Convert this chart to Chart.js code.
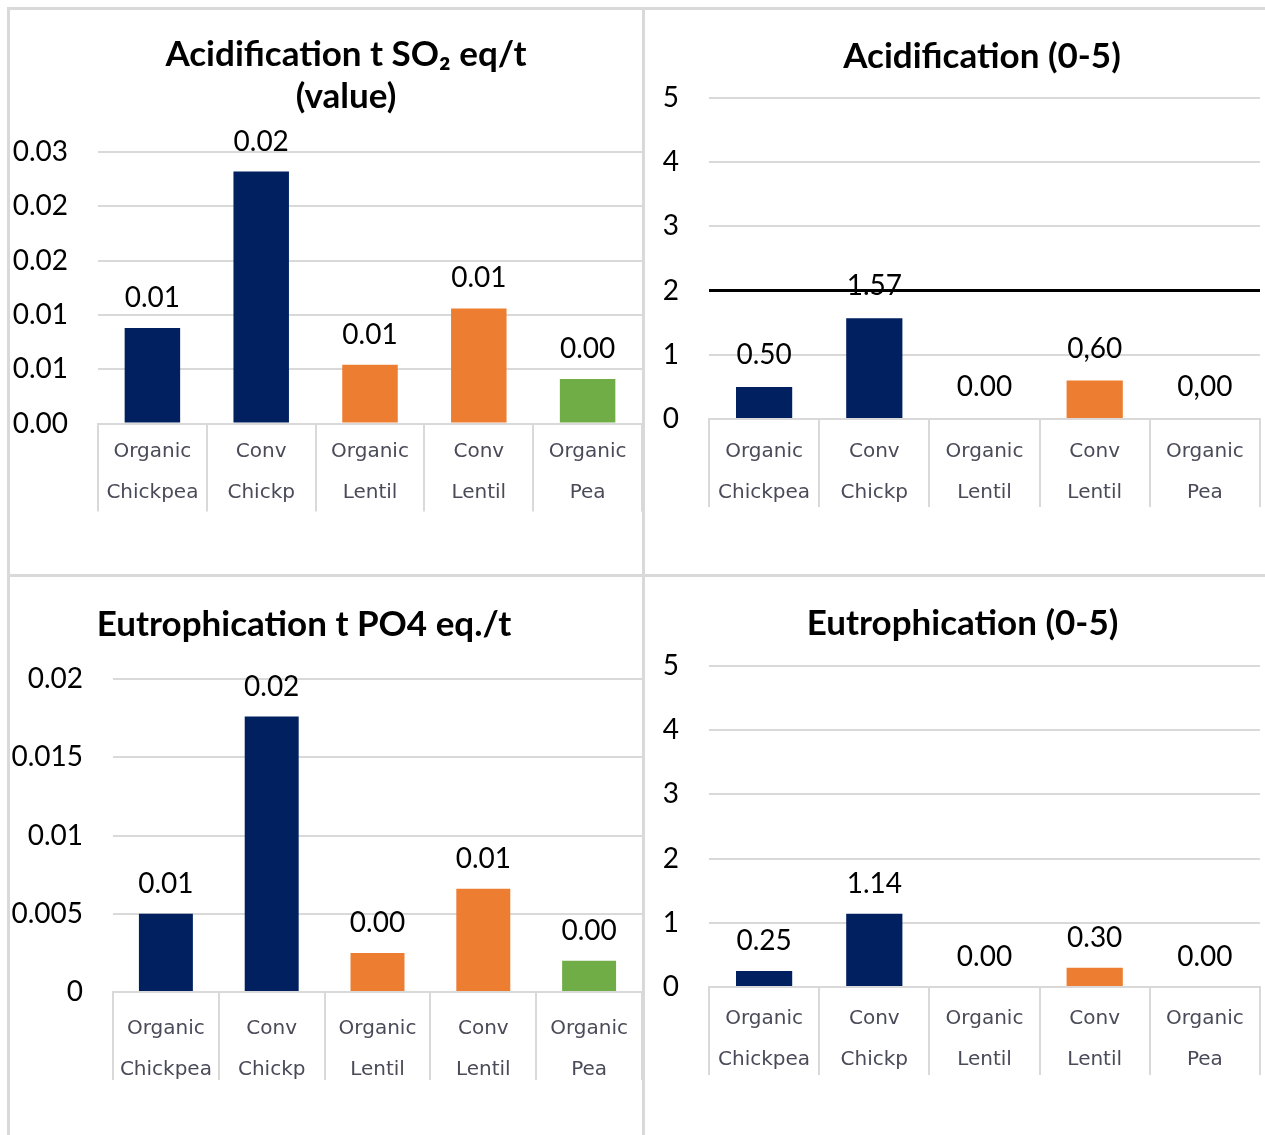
<!DOCTYPE html>
<html>
<head>
<meta charset="utf-8">
<script src="https://cdn.jsdelivr.net/npm/chart.js@4.4.1/dist/chart.umd.min.js"></script>
<style>
  html, body { margin: 0; padding: 0; background: #fff; }
  #page { position: relative; width: 1265px; height: 1135px; overflow: hidden; background: #fff; }
  canvas { position: absolute; }
  .rule { position: absolute; background: #d9d9d9; z-index: 2; }
</style>
</head>
<body>
<div id="page">
  <canvas id="acidValue" width="632" height="564" style="left:10px;top:10px"></canvas>
  <canvas id="acidScore" width="620" height="564" style="left:645px;top:10px"></canvas>
  <canvas id="eutroValue" width="632" height="558" style="left:10px;top:577px"></canvas>
  <canvas id="eutroScore" width="620" height="558" style="left:645px;top:577px"></canvas>
  <div class="rule" style="left:7px;top:7px;width:1258px;height:3px"></div>
  <div class="rule" style="left:7px;top:7px;width:3px;height:1128px"></div>
  <div class="rule" style="left:642px;top:7px;width:3px;height:1128px"></div>
  <div class="rule" style="left:7px;top:574px;width:1258px;height:3px"></div>
</div>
<script>
const categories = [["Organic", "Chickpea"], ["Conv", "Chickp"], ["Organic", "Lentil"], ["Conv", "Lentil"], ["Organic", "Pea"]];
const barColors = ["#002060", "#002060", "#ED7D31", "#ED7D31", "#70AD47"];

// Acidification t SO2 eq/t
const acidValues = [0.0088, 0.0232, 0.0054, 0.0106, 0.0041];
const acidValueLabels = ["0.01", "0.02", "0.01", "0.01", "0.00"];
const acidValueTicks = ["0.00", "0.01", "0.01", "0.02", "0.02", "0.03"];

// Acidification score (0-5)
const acidScores = [0.50, 1.57, 0, 0.60, 0];
const acidScoreLabels = ["0.50", "1.57", "0.00", "0,60", "0,00"];
const acidThreshold = 2;

// Eutrophication t PO4 eq./t
const eutroValues = [0.0050, 0.0176, 0.0025, 0.0066, 0.0020];
const eutroValueLabels = ["0.01", "0.02", "0.00", "0.01", "0.00"];
const eutroValueTicks = ["0", "0.005", "0.01", "0.015", "0.02"];

// Eutrophication score (0-5)
const eutroScores = [0.25, 1.14, 0, 0.30, 0];
const eutroScoreLabels = ["0.25", "1.14", "0.00", "0.30", "0.00"];

const scoreTicks = ["0", "1", "2", "3", "4", "5"];

// move the title sideways, the Excel titles are not centred on the canvas
const titleShift = {
  id: "titleShift",
  afterLayout(chart, args, opts) {
    const t = chart.titleBlock;
    if (t && opts.dx) {
      t.left += opts.dx;
      t.right += opts.dx;
    }
  }
};

// black reference line across the plot
const thresholdLine = {
  id: "thresholdLine",
  afterDatasetsDraw(chart, args, opts) {
    if (opts.value === undefined || opts.value === null) return;
    const { ctx, chartArea } = chart;
    const y = chart.scales.y.getPixelForValue(opts.value);
    ctx.save();
    ctx.strokeStyle = "#000";
    ctx.lineWidth = 3;
    ctx.beginPath();
    ctx.moveTo(chartArea.left, y);
    ctx.lineTo(chartArea.right, y);
    ctx.stroke();
    ctx.restore();
  }
};

// value text above each bar
const barLabels = {
  id: "barLabels",
  afterDatasetsDraw(chart, args, opts) {
    const ds = chart.data.datasets[0];
    const meta = chart.getDatasetMeta(0);
    const ctx = chart.ctx;
    ctx.save();
    ctx.font = "28px Lato";
    ctx.fillStyle = "#000";
    ctx.textAlign = "center";
    ctx.textBaseline = "middle";
    meta.data.forEach((bar, i) => {
      ctx.fillText(ds.valueLabels[i], bar.x, bar.y - opts.offset);
    });
    ctx.restore();
  }
};

function makeChart(id, cfg) {
  return new Chart(document.getElementById(id), {
    type: "bar",
    data: {
      labels: categories,
      datasets: [{
        data: cfg.values,
        valueLabels: cfg.valueLabels,
        backgroundColor: barColors,
        barPercentage: 0.51,
        categoryPercentage: 1
      }]
    },
    options: {
      responsive: false,
      animation: false,
      devicePixelRatio: 1,
      layout: { padding: { left: 0, right: cfg.padRight, top: 0, bottom: 0 } },
      plugins: {
        legend: { display: false },
        tooltip: { enabled: false },
        title: {
          display: true,
          text: cfg.title,
          color: "#000",
          font: { family: "Lato", size: 35, weight: "bold", lineHeight: 42 / 35 },
          padding: { top: cfg.titleTop, bottom: cfg.titleBottom }
        },
        titleShift: { dx: cfg.titleDx },
        thresholdLine: { value: cfg.threshold },
        barLabels: { offset: cfg.labelOffset }
      },
      scales: {
        x: {
          grid: { offset: true, drawOnChartArea: false, drawTicks: true, tickLength: 88, color: "#d9d9d9", lineWidth: 2 },
          border: { display: true, color: "#d9d9d9", width: 2 },
          ticks: {
            color: "#4a4a58",
            padding: cfg.xPad,
            maxRotation: 0,
            autoSkip: false,
            font: { family: "'DejaVu Sans', sans-serif", size: 20, lineHeight: 41 / 20 }
          },
          afterFit: (s) => { s.height = cfg.xHeight; }
        },
        y: {
          min: 0,
          max: cfg.max,
          ticks: {
            stepSize: cfg.step,
            color: "#000",
            padding: 30,
            font: { family: "Lato", size: 28 },
            callback: (v, i) => cfg.tickLabels[i]
          },
          grid: { color: "#d9d9d9", lineWidth: 2, drawTicks: false },
          border: { display: false },
          afterFit: (s) => { s.width = cfg.yWidth; }
        }
      }
    },
    plugins: [titleShift, thresholdLine, barLabels]
  });
}

makeChart("acidValue", {
  title: ["Acidification t SO\u2082 eq/t", "(value)"],
  values: acidValues, valueLabels: acidValueLabels, tickLabels: acidValueTicks,
  max: 0.025, step: 0.005,
  yWidth: 88, padRight: 0, titleTop: 24, titleBottom: 34, titleDx: 20,
  xHeight: 150.5, xPad: -80, labelOffset: 30
});

makeChart("acidScore", {
  title: "Acidification (0-5)",
  values: acidScores, valueLabels: acidScoreLabels, tickLabels: scoreTicks,
  max: 5, step: 1, threshold: acidThreshold,
  yWidth: 64, padRight: 5, titleTop: 26, titleBottom: 20, titleDx: 29.5,
  xHeight: 155, xPad: -75.5, labelOffset: 32
});

makeChart("eutroValue", {
  title: "Eutrophication t PO4 eq./t",
  values: eutroValues, valueLabels: eutroValueLabels, tickLabels: eutroValueTicks,
  max: 0.02, step: 0.005,
  yWidth: 103, padRight: 0, titleTop: 27, titleBottom: 33, titleDx: -22,
  xHeight: 143, xPad: -71.5, labelOffset: 30
});

makeChart("eutroScore", {
  title: "Eutrophication (0-5)",
  values: eutroScores, valueLabels: eutroScoreLabels, tickLabels: scoreTicks,
  max: 5, step: 1,
  yWidth: 64, padRight: 5, titleTop: 26, titleBottom: 21, titleDx: 10,
  xHeight: 148, xPad: -76.5, labelOffset: 30
});
</script>
</body>
</html>
